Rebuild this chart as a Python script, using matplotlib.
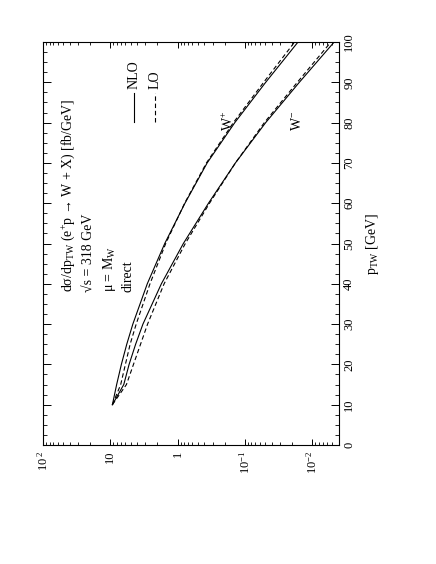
import matplotlib
matplotlib.use("Agg")
import matplotlib.pyplot as plt
from matplotlib.lines import Line2D
from matplotlib.ticker import FixedLocator, LogLocator, MultipleLocator, NullFormatter

plt.rcParams["font.family"] = ["Liberation Serif", "DejaVu Serif"]
plt.rcParams["mathtext.fontset"] = "custom"
plt.rcParams["mathtext.rm"] = "Liberation Serif"
plt.rcParams["mathtext.it"] = "Liberation Serif:italic"

# transverse momentum of the W [GeV]
pt = [10, 15, 20, 25, 30, 40, 50, 60, 70, 80, 90, 100]
# d sigma / d pT [fb/GeV]
wplus_nlo = [9.3, 8.04, 6.84, 5.69, 4.62, 2.82, 1.55, 0.776, 0.363, 0.141, 0.049, 0.0162]
wplus_lo = [9.3, 7.0, 5.96, 5.07, 4.12, 2.57, 1.50, 0.785, 0.372, 0.148, 0.0525, 0.0182]
wminus_nlo = [9.3, 6.3, 5.25, 4.2, 3.27, 1.74, 0.82, 0.347, 0.138, 0.049, 0.0155, 0.0047]
wminus_lo = [9.3, 5.75, 4.52, 3.55, 2.79, 1.585, 0.767, 0.335, 0.138, 0.0513, 0.0166, 0.00525]

decades = [100, 10, 1, 0.1, 0.01]
decade_labels = [r"$10^{\ 2}$", "10", "1", r"$10^{-1}$", r"$10^{-2}$"]

fig = plt.figure(figsize=(4.36, 5.64), dpi=100)
ax = fig.add_axes([0.0986, 0.211, 0.679, 0.7145])

solid = "-"
dashed = (0, (4, 2.5))
ax.plot(wplus_nlo, pt, color="black", lw=0.8, ls=solid)
ax.plot(wplus_lo, pt, color="black", lw=0.8, ls=dashed)
ax.plot(wminus_nlo, pt, color="black", lw=0.8, ls=solid)
ax.plot(wminus_lo, pt, color="black", lw=0.8, ls=dashed)

ax.set_xscale("log")
ax.set_xlim(100, 10 ** -2.4)
ax.set_ylim(0, 100)

ax.xaxis.set_major_locator(FixedLocator(decades))
ax.set_xticklabels(decade_labels)
ax.xaxis.set_minor_locator(LogLocator(base=10, subs=range(2, 10), numticks=20))
ax.xaxis.set_minor_formatter(NullFormatter())
ax.yaxis.set_major_locator(MultipleLocator(10))
ax.yaxis.set_minor_locator(MultipleLocator(2.5))

ax.tick_params(axis="x", which="both", direction="in", top=True, bottom=True,
               labelrotation=90, labelsize=9, pad=4)
ax.tick_params(axis="x", which="major", length=4, width=0.7)
ax.tick_params(axis="x", which="minor", length=2, width=0.6)
ax.tick_params(axis="y", which="both", direction="in", left=True, right=True,
               labelleft=False, labelright=True, labelrotation=90, labelsize=9, pad=3)
ax.tick_params(axis="y", which="major", length=5.5, width=0.7)
ax.tick_params(axis="y", which="minor", length=3, width=0.6)
for lab in ax.get_yticklabels():
    lab.set_va("center")

ax.yaxis.set_label_position("right")
ax.set_ylabel(r"p$_{\rm TW}$ [GeV]", rotation=90, fontsize=10, labelpad=6)

for sp in ax.spines.values():
    sp.set_linewidth(0.8)

# annotations (rotated like the landscape original)
fig.text(68 / 436, 1 - 292 / 564, r"dσ/dp$_{\rm TW}$ (e$^{+}$p → W + X) [fb/GeV]",
         rotation=90, ha="center", va="bottom", fontsize=10)
fig.text(89 / 436, 1 - 292 / 564, "√s = 318 GeV",
         rotation=90, ha="center", va="bottom", fontsize=10)
fig.text(109 / 436, 1 - 292 / 564, r"μ = M$_{\rm W}$",
         rotation=90, ha="center", va="bottom", fontsize=10)
fig.text(128 / 436, 1 - 292 / 564, "direct",
         rotation=90, ha="center", va="bottom", fontsize=10)

# legend
fig.add_artist(Line2D([134 / 436, 134 / 436], [1 - 122 / 564, 1 - 93 / 564],
                      color="black", lw=0.8, ls=solid))
fig.add_artist(Line2D([155 / 436, 155 / 436], [1 - 122 / 564, 1 - 93 / 564],
                      color="black", lw=0.8, ls=dashed))
fig.text(134 / 436, 1 - 89 / 564, "NLO", rotation=90, ha="center", va="bottom", fontsize=10)
fig.text(155 / 436, 1 - 89 / 564, "LO", rotation=90, ha="center", va="bottom", fontsize=10)

fig.text(228 / 436, 1 - 121 / 564, r"W$^{+}$", rotation=90, ha="center", va="center", fontsize=10)
fig.text(297 / 436, 1 - 121 / 564, r"W$^{-}$", rotation=90, ha="center", va="center", fontsize=10)

fig.savefig("out.png", dpi=100)
